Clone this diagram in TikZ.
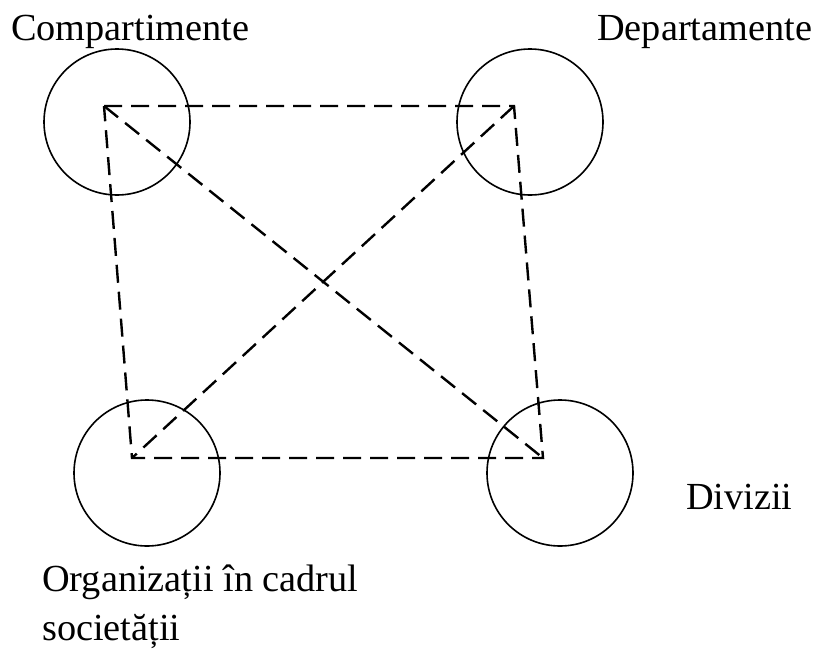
\documentclass[tikz,border=0pt]{standalone}
\usepackage{fontspec}
\setmainfont{Liberation Serif}
\usetikzlibrary{positioning}

\begin{document}
\begin{tikzpicture}[x=1pt, y=-1pt,
    every node/.style={font=\fontsize{38.3}{47}\selectfont, inner sep=0pt},
    unit/.style={draw, circle, line width=1.6pt, minimum size=146pt},
    link/.style={dashed, dash pattern=on 18pt off 9pt, line width=2.4pt}]
    \useasboundingbox (0,0) rectangle (814,648);

    % the four units
    \node[unit] (comp) at (117,122) {};
    \node[unit] (dept) at (530,122) {};
    \node[unit] (org)  at (147,473) {};
    \node[unit] (div)  at (560,473) {};

    % ends of the links
    \coordinate (c1) at (104,106);
    \coordinate (c2) at (514,106);
    \coordinate (c3) at (132,458);
    \coordinate (c4) at (543,458);

    \draw[link] (c1) -- (c2) -- (c4) -- (c3) -- cycle;
    \draw[link] (c1) -- (c4);
    \draw[link] (c2) -- (c3);

    % labels
    \node[anchor=base west] (lcomp) at (11,40.7) {Compartimente};
    \node[anchor=base west] (ldept) at (597,40.7) {Departamente};
    \node[anchor=base west] (ldiv)  at (686,509) {Divizii};
    \node[anchor=base west, align=left] (lorg) at (42,640) {Organizații în cadrul\\[2pt]societății};
\end{tikzpicture}
\end{document}
